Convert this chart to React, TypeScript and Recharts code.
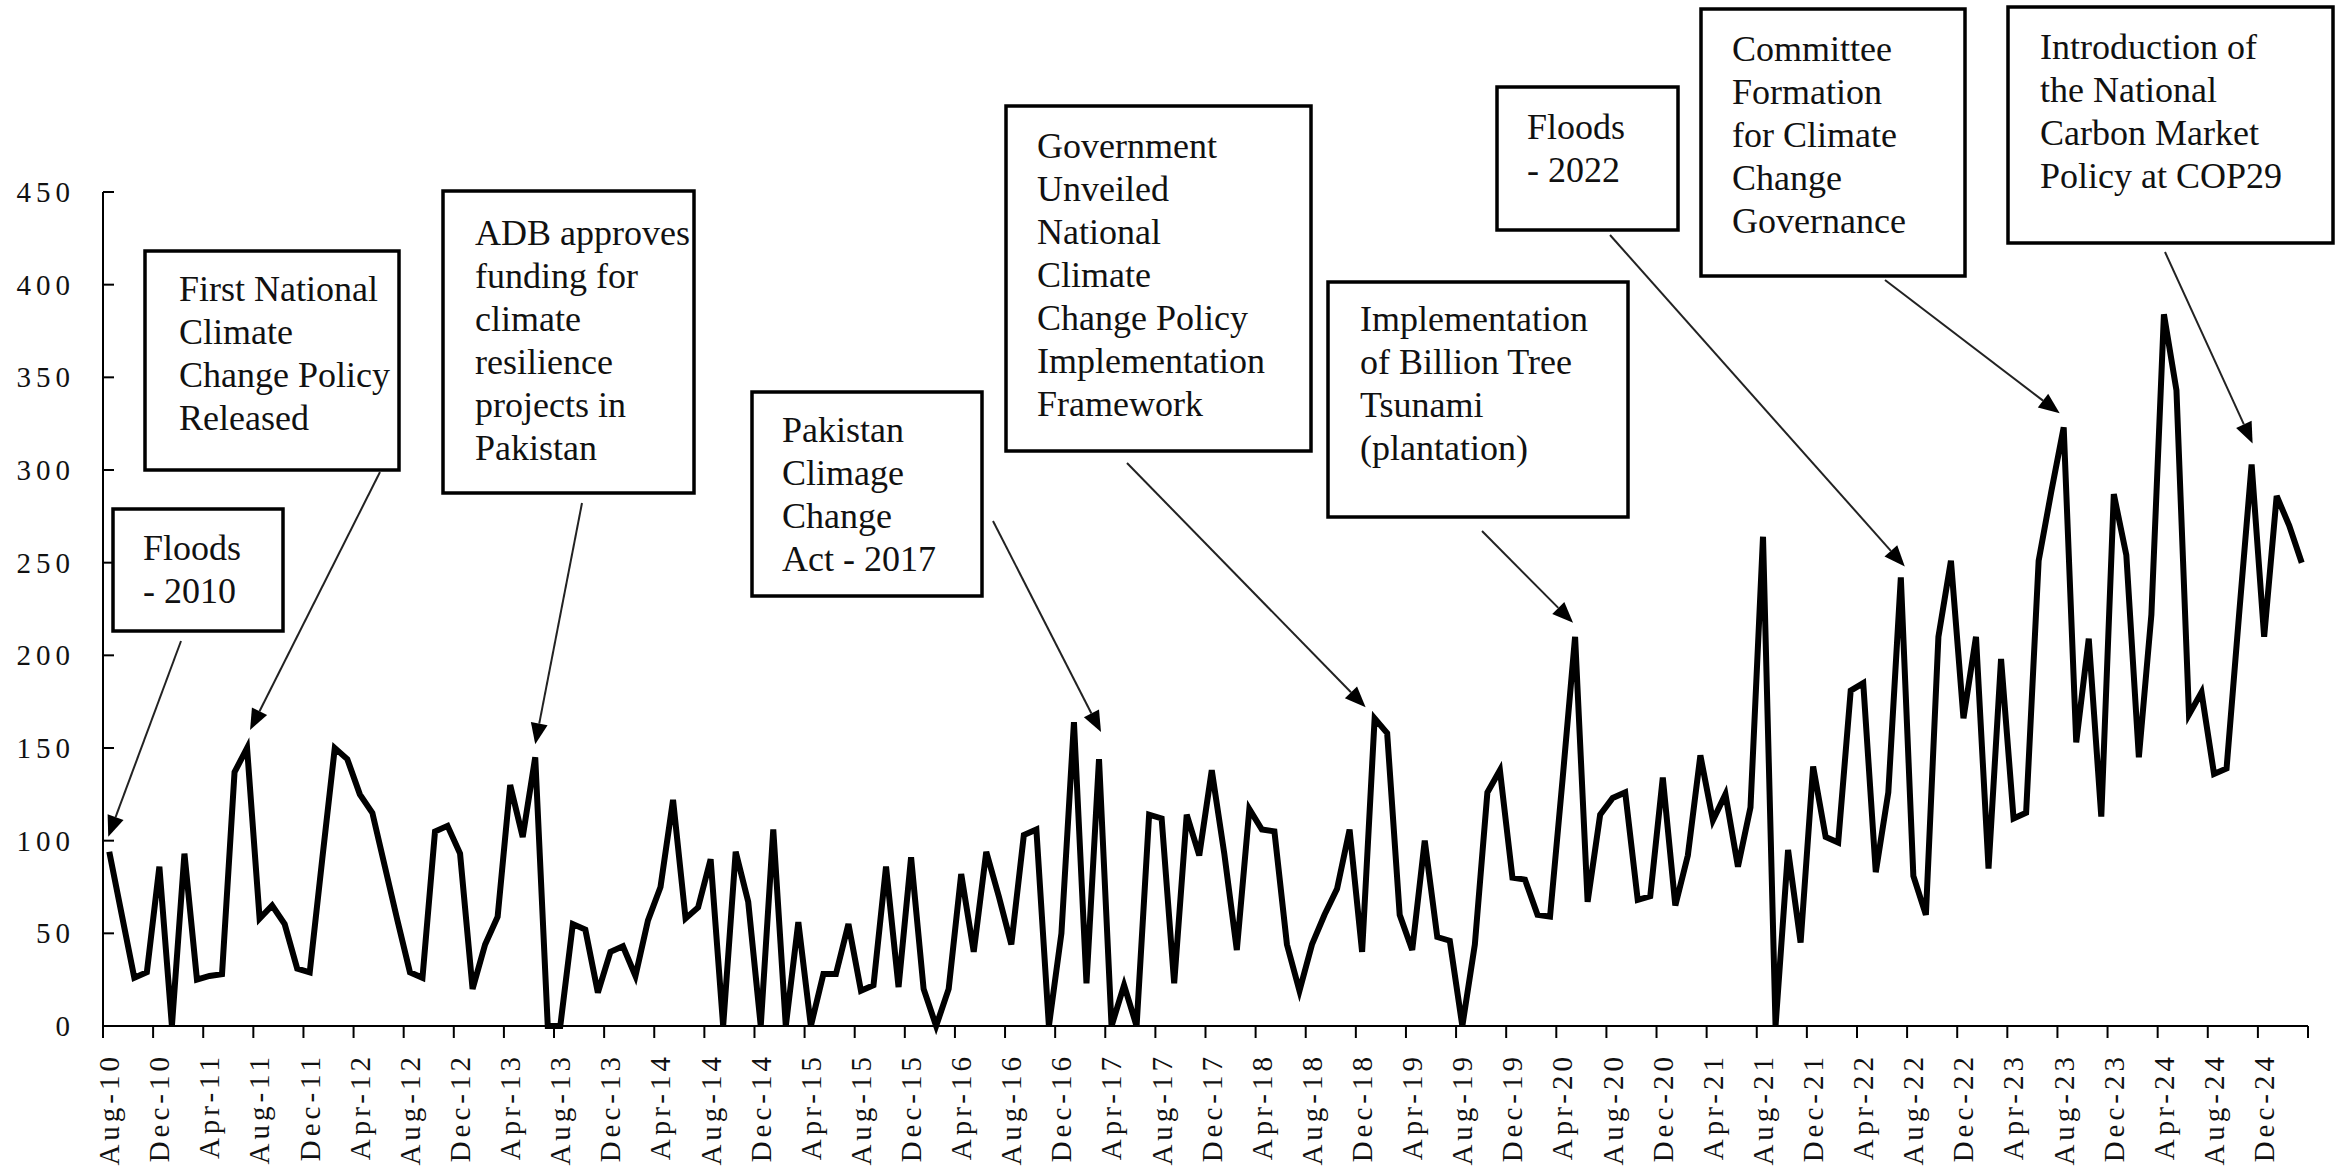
import React from 'react';
import { LineChart, Line, XAxis, YAxis, ReferenceDot } from 'recharts';

const FONT = "'Liberation Serif', 'Times New Roman', serif";

const MONTH_NAMES = ['Jan', 'Feb', 'Mar', 'Apr', 'May', 'Jun', 'Jul', 'Aug', 'Sep', 'Oct', 'Nov', 'Dec'];
const START_YEAR = 2010;
const START_MONTH = 7; // Aug

// monthly values, Aug-10 .. Mar-25
const values = [
  94, 60, 26, 29, 86, 0, 93, 25, 27, 28,
  137, 150, 58, 65, 55, 31, 29, 90, 150, 144,
  125, 115, 86, 57, 29, 26, 105, 108, 93, 20,
  44, 59, 130, 102, 145, 0, 0, 55, 52, 18,
  40, 43, 27, 57, 75, 122, 58, 64, 90, 0,
  94, 67, 0, 106, 0, 56, 0, 28, 28, 55,
  19, 22, 86, 21, 91, 20, 0, 20, 82, 40,
  94, 70, 44, 103, 106, 0, 50, 164, 23, 144,
  0, 22, 0, 114, 112, 23, 114, 92, 138, 93,
  41, 117, 106, 105, 44, 19, 44, 60, 74, 106,
  40, 166, 158, 60, 41, 100, 48, 46, 0, 44,
  126, 138, 80, 79, 60, 59, 133, 210, 67, 114,
  123, 126, 68, 70, 134, 65, 92, 146, 111, 125,
  86, 118, 264, 0, 95, 45, 140, 102, 99, 181,
  185, 83, 126, 242, 81, 60, 210, 251, 166, 210,
  85, 198, 112, 115, 251, 288, 323, 153, 209, 113,
  287, 254, 145, 222, 384, 343, 168, 180, 136, 139,
  222, 303, 210, 286, 270, 250,
];

const months = values.map((_, i) => {
  const t = START_MONTH + i;
  const yy = (START_YEAR + Math.floor(t / 12)) % 100;
  return `${MONTH_NAMES[t % 12]}-${String(yy).padStart(2, '0')}`;
});

const tickLabels = [
  'Aug-10', 'Dec-10', 'Apr-11', 'Aug-11', 'Dec-11', 'Apr-12', 'Aug-12', 'Dec-12', 'Apr-13', 'Aug-13',
  'Dec-13', 'Apr-14', 'Aug-14', 'Dec-14', 'Apr-15', 'Aug-15', 'Dec-15', 'Apr-16', 'Aug-16', 'Dec-16',
  'Apr-17', 'Aug-17', 'Dec-17', 'Apr-18', 'Aug-18', 'Dec-18', 'Apr-19', 'Aug-19', 'Dec-19', 'Apr-20',
  'Aug-20', 'Dec-20', 'Apr-21', 'Aug-21', 'Dec-21', 'Apr-22', 'Aug-22', 'Dec-22', 'Apr-23', 'Aug-23',
  'Dec-23', 'Apr-24', 'Aug-24', 'Dec-24',
];

const yTicks = [0, 50, 100, 150, 200, 250, 300, 350, 400, 450];

// category slots: each month occupies one slot; ticks sit on slot boundaries every 4 months
const slotCount = values.length;
const xTicks = [...tickLabels.map((_, k) => k * 4), slotCount];

const data = values.map((v, i) => ({ x: i + 0.5, month: months[i], value: v }));

type Annotation = {
  month: string;
  lines: string[];
  box: [number, number, number, number];
  textX: number;
  baseline: number;
  from: [number, number];
  tip: [number, number];
};

const annotations: Annotation[] = [
  { month: 'Aug-10', lines: ['Floods', '- 2010'], box: [113, 509, 170, 122], textX: 143, baseline: 560, from: [181, 641], tip: [-1, -15] },
  { month: 'Jul-11', lines: ['First National', 'Climate', 'Change Policy', 'Released'], box: [145, 251, 254, 219], textX: 179, baseline: 301, from: [380, 472], tip: [3, -18] },
  { month: 'Jun-13', lines: ['ADB approves', 'funding for', 'climate', 'resilience', 'projects in', 'Pakistan'], box: [443, 191, 251, 302], textX: 475, baseline: 245, from: [582, 503], tip: [0, -13] },
  { month: 'Mar-17', lines: ['Pakistan', 'Climage', 'Change', 'Act - 2017'], box: [752, 392, 230, 204], textX: 782, baseline: 442, from: [993, 521], tip: [2, -27] },
  { month: 'Jan-19', lines: ['Government', 'Unveiled', 'National', 'Climate', 'Change Policy', 'Implementation', 'Framework'], box: [1006, 106, 305, 345], textX: 1037, baseline: 158, from: [1127, 463], tip: [-9, -11] },
  { month: 'May-20', lines: ['Implementation', 'of Billion Tree', 'Tsunami', '(plantation)'], box: [1328, 282, 300, 235], textX: 1360, baseline: 331, from: [1482, 531], tip: [-2, -14] },
  { month: 'Jul-22', lines: ['Floods', '- 2022'], box: [1497, 87, 181, 143], textX: 1527, baseline: 139, from: [1610, 235], tip: [4, -11] },
  { month: 'Aug-23', lines: ['Committee', 'Formation', 'for Climate', 'Change', 'Governance'], box: [1701, 9, 264, 267], textX: 1732, baseline: 61, from: [1885, 280], tip: [-4, -14] },
  { month: 'Nov-24', lines: ['Introduction of', 'the National', 'Carbon Market', 'Policy at COP29'], box: [2008, 7, 325, 236], textX: 2040, baseline: 59, from: [2165, 252], tip: [1, -21] },
];

const LINE_GAP = 43;

const renderAnnotation = (a: Annotation) => (props: any) => {
  const { cx, cy } = props;
  const tipX = cx + a.tip[0];
  const tipY = cy + a.tip[1];
  const [sx, sy] = a.from;
  const dx = tipX - sx;
  const dy = tipY - sy;
  const len = Math.hypot(dx, dy) || 1;
  const ux = dx / len;
  const uy = dy / len;
  const headLen = 21;
  const headW = 8.5;
  const bx = tipX - ux * headLen;
  const by = tipY - uy * headLen;
  const px = -uy;
  const py = ux;
  return (
    <g>
      <line x1={sx} y1={sy} x2={bx} y2={by} stroke="#222" strokeWidth={2} />
      <polygon
        points={`${tipX},${tipY} ${bx + px * headW},${by + py * headW} ${bx - px * headW},${by - py * headW}`}
        fill="#000"
      />
      <rect x={a.box[0]} y={a.box[1]} width={a.box[2]} height={a.box[3]} fill="#fff" stroke="#000" strokeWidth={3.5} />
      {a.lines.map((ln, j) => (
        <text key={j} x={a.textX} y={a.baseline + j * LINE_GAP} fontFamily={FONT} fontSize={36} fill="#111">
          {ln}
        </text>
      ))}
    </g>
  );
};

const XTick = (props: any) => {
  const { x, y, payload } = props;
  const k = Math.round(payload.value / 4);
  const label = payload.value < slotCount ? tickLabels[k] : '';
  const tx = x + 6;
  return (
    <g>
      <text
        x={tx}
        y={y}
        dy="0.35em"
        transform={`rotate(-90, ${tx}, ${y})`}
        textAnchor="end"
        fontFamily={FONT}
        fontSize={29}
        letterSpacing={4}
        fill="#111"
      >
        {label}
      </text>
    </g>
  );
};

const YTick = (props: any) => {
  const { x, y, payload } = props;
  return (
    <g>
      <line x1={x + 33} x2={x + 44} y1={y} y2={y} stroke="#000" strokeWidth={2} />
      <text x={x + 5} y={y} dy="0.35em" textAnchor="end" fontFamily={FONT} fontSize={29} letterSpacing={5} fill="#111">
        {payload.value}
      </text>
    </g>
  );
};

export default function App() {
  return (
    <div style={{ position: 'absolute', left: 0, top: 0, width: 2344, height: 1169, background: '#fff' }}>
      <LineChart width={2344} height={1169} data={data} margin={{ top: 192, right: 36, bottom: 0, left: 0 }}>
        <XAxis
          type="number"
          dataKey="x"
          domain={[0, slotCount]}
          ticks={xTicks}
          interval={0}
          height={143}
          tickSize={12}
          tickMargin={15}
          axisLine={{ stroke: '#000', strokeWidth: 2 }}
          tickLine={{ stroke: '#000', strokeWidth: 2 }}
          tick={(p: any) => <XTick {...p} />}
        />
        <YAxis
          type="number"
          domain={[0, 450]}
          ticks={yTicks}
          interval={0}
          width={103}
          tickSize={0}
          tickMargin={33}
          tickLine={false}
          axisLine={{ stroke: '#000', strokeWidth: 2 }}
          tick={(p: any) => <YTick {...p} />}
        />
        <Line
          type="linear"
          dataKey="value"
          stroke="#000"
          strokeWidth={6}
          dot={false}
          activeDot={false}
          isAnimationActive={false}
        />
        {annotations.map((a) => {
          const idx = months.indexOf(a.month);
          return (
            <ReferenceDot
              key={a.month}
              x={idx + 0.5}
              y={values[idx]}
              r={0}
              ifOverflow="visible"
              shape={renderAnnotation(a)}
            />
          );
        })}
      </LineChart>
    </div>
  );
}
